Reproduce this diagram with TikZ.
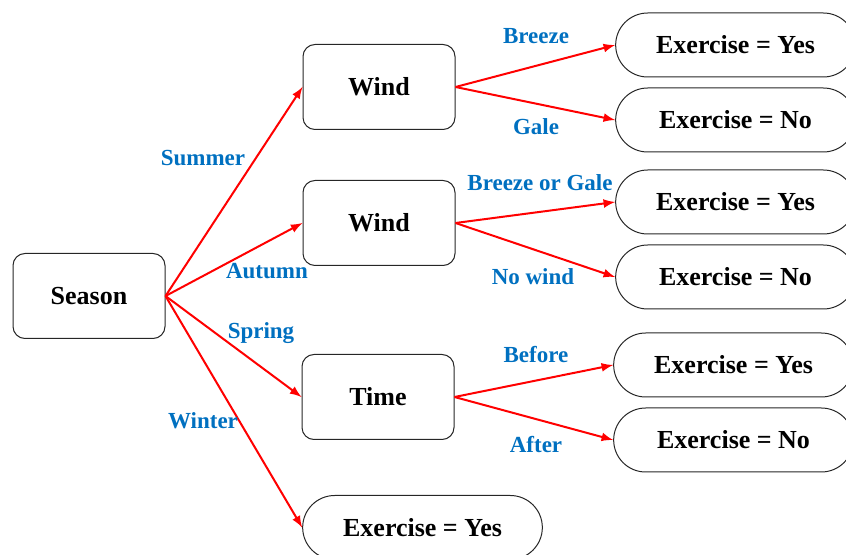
\documentclass[tikz,border=0pt]{standalone}
\usepackage{fontspec}
\setmainfont{Liberation Serif}
\usepackage{tikz}
\usetikzlibrary{shapes.misc}
\definecolor{lblblue}{RGB}{0,112,192}

\begin{document}
\begin{tikzpicture}[x=0.5pt, y=-0.5pt,
  box/.style={draw=black!85, line width=0.5pt, rounded corners=6pt, minimum width=76pt, minimum height=42.5pt, font=\fontsize{13}{15}\selectfont\bfseries},
  leaf/.style={draw=black!85, line width=0.5pt, rounded rectangle, minimum width=126.5pt, minimum height=32pt, font=\fontsize{13}{15}\selectfont\bfseries},
  lbl/.style={text=lblblue, font=\fontsize{11.5}{13}\selectfont\bfseries},
  branch/.style={red, line width=1pt, ->, >=latex}]
\useasboundingbox (0,0) rectangle (846,555);
% decision nodes
\node[box] (season) at (89,296) {Season};
\node[box] (windA) at (379,87) {Wind};
\node[box] (windB) at (379,223) {Wind};
\node[box] (time) at (378,397) {Time};
% leaves
\node[leaf] (yesA) at (735.5,45) {Exercise = Yes};
\node[leaf] (noA) at (735.5,120) {Exercise = No};
\node[leaf] (yesB) at (735.5,202) {Exercise = Yes};
\node[leaf] (noB) at (735.5,277) {Exercise = No};
\node[leaf] (yesC) at (733.5,365) {Exercise = Yes};
\node[leaf] (noC) at (733.5,440) {Exercise = No};
\node[leaf] (yesD) at (422.5,527.5) {Exercise = Yes};
% branches
\draw[branch] (season.east) -- (windA.west);
\draw[branch] (season.east) -- (windB.west);
\draw[branch] (season.east) -- (time.west);
\draw[branch] (season.east) -- (yesD.west);
\draw[branch] (windA.east) -- (yesA.west);
\draw[branch] (windA.east) -- (noA.west);
\draw[branch] (windB.east) -- (yesB.west);
\draw[branch] (windB.east) -- (noB.west);
\draw[branch] (time.east) -- (yesC.west);
\draw[branch] (time.east) -- (noC.west);
% labels
\node[lbl] (summer) at (203,158) {Summer};
\node[lbl] (autumn) at (267,271) {Autumn};
\node[lbl] (spring) at (261,333) {Spring};
\node[lbl] (winter) at (203,421) {Winter};
\node[lbl] (breeze) at (536,36) {Breeze};
\node[lbl] (gale) at (536,127) {Gale};
\node[lbl] (either) at (540,183) {Breeze or Gale};
\node[lbl] (nowind) at (533,277) {No wind};
\node[lbl] (before) at (536,355) {Before};
\node[lbl] (after) at (536,445) {After};
\end{tikzpicture}
\end{document}
